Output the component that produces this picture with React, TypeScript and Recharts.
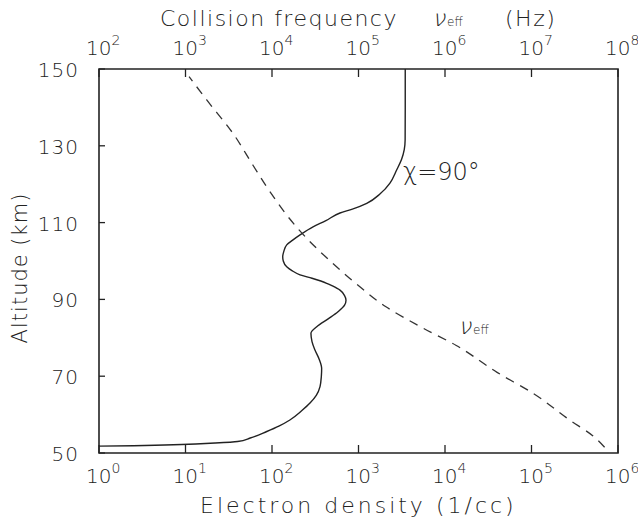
import React from 'react';
import { LineChart, Line, XAxis, YAxis, ReferenceArea, Customized } from 'recharts';

// electron density profile for chi = 90 deg
const neAltitude = [
  51.8, 51.9, 52.2, 52.6, 53, 53.9, 55.6, 57, 58.6, 61, 63, 65, 67.3, 70, 72, 74.5, 76.8, 79, 81.2,
  82.9, 85, 86.8, 88.5, 89.8, 91, 92.4, 93.5, 94.2, 95.5, 96.4, 97.5, 98.5, 100, 101.1, 102.5, 104.2,
  105.5, 106.8, 108.9, 110.5, 112.5, 113.5, 115, 117.5, 120.3, 123.7, 126.5, 129, 131.5, 140, 150,
];
const neDensity = [
  1, 2.5, 9, 22, 40, 56, 87, 120, 161, 220, 275, 325, 359, 372, 375, 350, 314, 290, 282,
  329, 450, 580, 690, 717, 690, 611, 500, 429, 290, 211, 170, 148, 135, 133, 137, 148,
  175, 211, 298, 420, 611, 850, 1245, 1780, 2310, 2760, 3150, 3380, 3460, 3470, 3470,
];

// effective collision frequency (Hz)
const nuAltitude = [51.5, 54.5, 58.5, 65.5, 71, 78, 82.5, 88, 94, 100, 106, 111, 118, 125, 133, 142, 148];
const nuFrequency = [
  7.0e7, 5.1e7, 2.8e7, 1.05e7, 4.0e6, 1.35e6, 5.6e5, 2.1e5, 9.5e4, 4.7e4, 2.5e4, 1.6e4, 9.5e3, 6.0e3,
  3.6e3, 1.75e3, 1.1e3,
];

const densityTicks = [1, 10, 100, 1e3, 1e4, 1e5, 1e6];
const freqTicks = [1e2, 1e3, 1e4, 1e5, 1e6, 1e7, 1e8];
const altTicks = [50, 70, 90, 110, 130, 150];

const neData = neAltitude.map((alt, i) => ({ alt, ne: neDensity[i] }));
const nuData = nuAltitude.map((alt, i) => ({ alt, nu: nuFrequency[i] }));

const INK = '#222';
const FONT = '"DejaVu Sans", "Liberation Sans", sans-serif';
const WEIGHT = 200;

const PowTick = (props: any) => {
  const { x, y, payload, side } = props;
  const exp = Math.round(Math.log10(payload.value));
  const down = side === 'bottom';
  const ty = down ? y + 30 : y - 14;
  return (
    <g>
      <line x1={x} y1={y} x2={x} y2={down ? y - 8 : y + 8} stroke={INK} strokeWidth={1.3} />
      <text x={x - 13} y={ty} fill={INK} fontSize={20} fontFamily={FONT} fontWeight={WEIGHT}>
        10
        <tspan dy={-10} fontSize={14}>
          {exp}
        </tspan>
      </text>
    </g>
  );
};

const AltTick = (props: any) => {
  const { x, y, payload } = props;
  return (
    <g>
      <line x1={x} y1={y} x2={x + 6} y2={y} stroke={INK} strokeWidth={1.3} />
      <text
        x={x - 20}
        y={y + 8}
        textAnchor="end"
        fill={INK}
        fontSize={20}
        fontFamily={FONT}
        fontWeight={WEIGHT}
        letterSpacing={1}
      >
        {payload.value}
      </text>
    </g>
  );
};

// nu_eff with a slanted nu
const Nu = ({ x, y }: { x: number; y: number }) => (
  <g transform={`translate(${x} ${y})`}>
    <text x={0} y={0} fontSize={23} transform="skewX(-14)">
      ν
    </text>
    <text x={15} y={0} fontSize={12}>
      eff
    </text>
  </g>
);

const Annotations = () => (
  <g fill={INK} fontFamily={FONT} fontWeight={WEIGHT}>
    <text x={160} y={26} fontSize={22} letterSpacing={1.5}>
      Collision frequency
    </text>
    <Nu x={432} y={26} />
    <text x={505} y={26} fontSize={22} letterSpacing={1.5}>
      (Hz)
    </text>
    <text x={200} y={513} fontSize={22} letterSpacing={3}>
      Electron density (1/cc)
    </text>
    <text
      x={0}
      y={0}
      transform="translate(27 268) rotate(-90)"
      textAnchor="middle"
      fontSize={21}
      letterSpacing={1}
    >
      Altitude (km)
    </text>
    <text x={403} y={180} fontSize={24}>
      χ=90°
    </text>
    <Nu x={458} y={334} />
  </g>
);

export default function App() {
  return (
    <div style={{ position: 'absolute', left: 0, top: 0, width: 638, height: 523, background: '#fff' }}>
      <LineChart
        layout="vertical"
        width={638}
        height={523}
        margin={{ top: 29, right: 20, bottom: 30, left: 39 }}
      >
        <XAxis
          xAxisId="ne"
          type="number"
          scale="log"
          domain={[1, 1e6]}
          ticks={densityTicks}
          interval={0}
          allowDataOverflow
          axisLine={false}
          tickLine={false}
          tickSize={0}
          tickMargin={0}
          height={40}
          tick={(p: any) => <PowTick {...p} side="bottom" />}
        />
        <XAxis
          xAxisId="nu"
          orientation="top"
          type="number"
          scale="log"
          domain={[1e2, 1e8]}
          ticks={freqTicks}
          interval={0}
          allowDataOverflow
          axisLine={false}
          tickLine={false}
          tickSize={0}
          tickMargin={0}
          height={40}
          tick={(p: any) => <PowTick {...p} side="top" />}
        />
        <YAxis
          type="number"
          dataKey="alt"
          domain={[50, 150]}
          ticks={altTicks}
          interval={0}
          reversed
          allowDataOverflow
          axisLine={false}
          tickLine={false}
          tickSize={0}
          tickMargin={0}
          width={60}
          tick={(p: any) => <AltTick {...p} />}
        />
        <ReferenceArea
          xAxisId="ne"
          x1={1}
          x2={1e6}
          y1={50}
          y2={150}
          fill="none"
          stroke={INK}
          strokeWidth={1.6}
          ifOverflow="visible"
        />
        <Line
          xAxisId="ne"
          data={neData}
          dataKey="ne"
          type="monotone"
          stroke={INK}
          strokeWidth={1.4}
          dot={false}
          isAnimationActive={false}
        />
        <Line
          xAxisId="nu"
          data={nuData}
          dataKey="nu"
          type="monotone"
          stroke="#333"
          strokeWidth={1.3}
          strokeDasharray="9 7"
          dot={false}
          isAnimationActive={false}
        />
        <Customized component={Annotations} />
      </LineChart>
    </div>
  );
}
